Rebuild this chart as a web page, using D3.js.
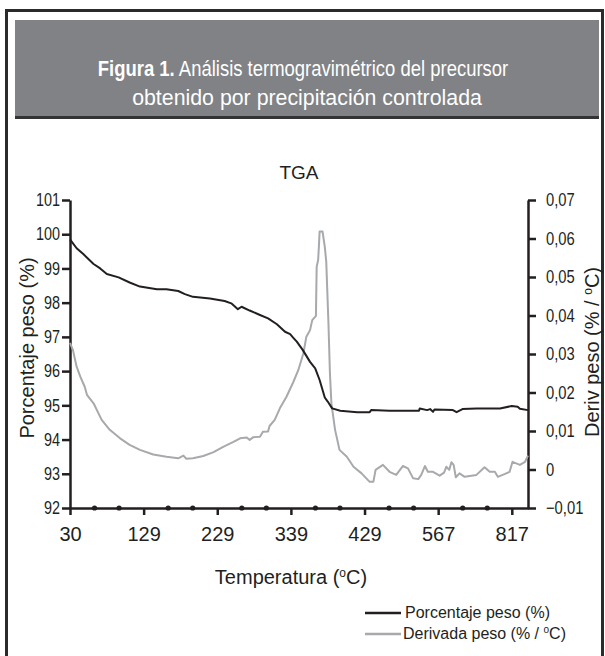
<!DOCTYPE html>
<html>
<head>
<meta charset="utf-8">
<script src="https://cdnjs.cloudflare.com/ajax/libs/d3/7.8.5/d3.min.js"></script>
<style>
  body { margin: 0; background: #fff; }
  text { font-family: "Liberation Sans", Arial, sans-serif; fill: #231f20; }
</style>
</head>
<body>
<svg id="chart" width="605" height="656"></svg>
<script>
// x axis is sample position; labels are the temperatures printed under each tick
const xLabels = ["30", "129", "229", "339", "429", "567", "817"];
const pesoTicks = [92, 93, 94, 95, 96, 97, 98, 99, 100, 101];
const derivTicks = [-0.01, 0, 0.01, 0.02, 0.03, 0.04, 0.05, 0.06, 0.07];

// Porcentaje peso (%)
const pesoX = [0, 0.09, 0.18, 0.32, 0.41, 0.50, 0.66, 0.81, 0.95, 1.18, 1.31, 1.47, 1.56, 1.67,
  1.90, 2.10, 2.19, 2.28, 2.33, 2.44, 2.58, 2.69, 2.81, 2.92, 2.99, 3.03, 3.08, 3.16, 3.26,
  3.33, 3.39, 3.46, 3.50, 3.56, 3.67, 3.90, 4.07, 4.09, 4.34, 4.74, 4.75, 4.85, 4.89, 4.93,
  4.95, 5.20, 5.25, 5.33, 5.52, 5.84, 6.00, 6.08, 6.11, 6.22];
const pesoY = [99.85, 99.59, 99.42, 99.13, 99.00, 98.84, 98.74, 98.59, 98.47, 98.39, 98.39, 98.34, 98.25, 98.17,
  98.12, 98.05, 97.98, 97.81, 97.88, 97.77, 97.64, 97.54, 97.37, 97.15, 97.08, 96.98, 96.86, 96.62, 96.27,
  96.08, 95.74, 95.23, 95.11, 94.91, 94.84, 94.80, 94.80, 94.86, 94.84, 94.84, 94.91, 94.86, 94.89, 94.81,
  94.88, 94.86, 94.80, 94.89, 94.91, 94.91, 94.98, 94.96, 94.90, 94.86];

// Derivada peso (% / ºC)
const derivX = [0, 0.04, 0.09, 0.14, 0.20, 0.23, 0.32, 0.43, 0.54, 0.68, 0.81, 0.95, 1.13, 1.31,
  1.47, 1.54, 1.58, 1.67, 1.81, 1.95, 2.08, 2.22, 2.31, 2.40, 2.44, 2.49, 2.58, 2.62, 2.69,
  2.71, 2.78, 2.85, 2.94, 3.03, 3.10, 3.17, 3.21, 3.26, 3.29, 3.34, 3.35, 3.37, 3.38, 3.39,
  3.43, 3.46, 3.48, 3.51, 3.53, 3.55, 3.60, 3.66, 3.76, 3.85, 3.96, 4.07, 4.12, 4.15, 4.25,
  4.34, 4.43, 4.52, 4.59, 4.66, 4.73, 4.77, 4.82, 4.86, 4.93, 5.02, 5.08, 5.11, 5.15, 5.18,
  5.21, 5.24, 5.29, 5.36, 5.52, 5.63, 5.70, 5.77, 5.81, 5.90, 5.97, 6.01, 6.11, 6.18, 6.22];
const derivY = [0.0329, 0.0310, 0.0267, 0.0241, 0.0215, 0.0194, 0.0172, 0.0129, 0.0103, 0.0081, 0.0064, 0.0051, 0.0039, 0.0033,
  0.0029, 0.0036, 0.0028, 0.0029, 0.0035, 0.0045, 0.0059, 0.0072, 0.0081, 0.0083, 0.0077, 0.0084, 0.0085, 0.0098, 0.0099,
  0.0113, 0.0129, 0.0159, 0.0189, 0.0226, 0.0258, 0.0302, 0.0345, 0.0362, 0.0388, 0.0399, 0.0527, 0.0544, 0.0579, 0.0618,
  0.0618, 0.0579, 0.0540, 0.0380, 0.0250, 0.0172, 0.0103, 0.0051, 0.0033, 0.0007, -0.0010, -0.0032, -0.0032, -0.0001, 0.0012,
  -0.0006, -0.0014, 0.0009, 0.0003, -0.0023, -0.0025, -0.0014, 0.0009, -0.0006, -0.0006, -0.0016, -0.0008, 0.0007, -0.0001, 0.0019,
  0.0012, -0.0020, -0.0010, -0.0019, -0.0014, 0.0006, -0.0006, -0.0006, -0.0019, -0.0012, -0.0006, 0.0020, 0.0012, 0.0020, 0.0036];

const svg = d3.select("#chart");
const dark = "#231f20";

// squeeze text horizontally (the original uses a condensed face)
function condense(sel, k) {
  sel.each(function () {
    const w = this.getComputedTextLength();
    d3.select(this).attr("textLength", w * k).attr("lengthAdjust", "spacingAndGlyphs");
  });
}

// frame + header box
svg.append("rect").attr("x", 6.5).attr("y", 10.5).attr("width", 596).attr("height", 660)
  .attr("fill", "none").attr("stroke", "#2b2b2b").attr("stroke-width", 3);
svg.append("rect").attr("x", 15).attr("y", 20).attr("width", 584).attr("height", 98).attr("fill", "#808285");
svg.append("rect").attr("x", 15).attr("y", 116).attr("width", 584).attr("height", 3).attr("fill", "#333");

const head1 = svg.append("g").attr("transform", "translate(303,0) scale(0.84,1)");
const l1 = head1.append("text").attr("x", 0).attr("y", 76).attr("text-anchor", "middle").attr("font-size", 22);
l1.append("tspan").attr("font-weight", "bold").style("fill", "#fff").text("Figura 1.");
l1.append("tspan").style("fill", "#fff").text(" Análisis termogravimétrico del precursor");
svg.append("g").attr("transform", "translate(307,0) scale(0.97,1)")
  .append("text").attr("x", 0).attr("y", 105).attr("text-anchor", "middle").attr("font-size", 22)
  .style("fill", "#fff").text("obtenido por precipitación controlada");

// scales
const mLeft = 70, mRight = 528, mTop = 200, mBottom = 508;
const x = d3.scaleLinear().domain([0, 6.22]).range([mLeft, mRight]);
const yL = d3.scaleLinear().domain([92, 101]).range([mBottom, mTop]);
const yR = d3.scaleLinear().domain([-0.01, 0.07]).range([mBottom, mTop]);

svg.append("text").attr("x", 299).attr("y", 179).attr("text-anchor", "middle")
  .attr("font-size", 19).text("TGA");

// axes
function styleAxis(g) {
  g.select(".domain").attr("stroke", dark).attr("stroke-width", 2.5);
  g.selectAll(".tick line").attr("stroke", dark).attr("stroke-width", 2.5);
  g.selectAll(".tick text").style("fill", dark);
}

svg.append("g").attr("transform", `translate(${mLeft},0)`)
  .call(d3.axisLeft(yL).tickValues(pesoTicks).tickSize(8).tickSizeOuter(0).tickPadding(2))
  .call(g => g.selectAll("text").attr("font-size", 18).call(condense, 0.8))
  .call(styleAxis);

const fmt = d3.format(".2f");
svg.append("g").attr("transform", `translate(${mRight},0)`)
  .call(d3.axisRight(yR).tickValues(derivTicks).tickSize(8).tickSizeOuter(0).tickPadding(10)
    .tickFormat(d => (Math.abs(d) < 1e-9 ? "0" : fmt(d).replace(".", ","))))
  .call(g => g.selectAll("text").attr("font-size", 18).call(condense, 0.82))
  .call(styleAxis);

svg.append("g").attr("transform", `translate(0,${mBottom})`)
  .call(d3.axisBottom(x).tickValues(d3.range(xLabels.length)).tickFormat(i => xLabels[i])
    .tickSize(7).tickSizeOuter(0).tickPadding(12))
  .call(g => g.selectAll("text").attr("font-size", 20))
  .call(styleAxis);

// dots on the x axis between ticks
const dots = d3.range(xLabels.length - 1).flatMap(i => [i + 1 / 3, i + 2 / 3]);
svg.append("g").selectAll("circle").data(dots).enter().append("circle")
  .attr("cx", d => x(d)).attr("cy", mBottom).attr("r", 2.6).attr("fill", dark);

// lines
const pesoData = pesoX.map((v, i) => [v, pesoY[i]]);
const derivData = derivX.map((v, i) => [v, derivY[i]]);

svg.append("path").datum(derivData)
  .attr("fill", "none").attr("stroke", "#a7a9ac").attr("stroke-width", 2).attr("stroke-linejoin", "round")
  .attr("d", d3.line().x(d => x(d[0])).y(d => yR(d[1])));

svg.append("path").datum(pesoData)
  .attr("fill", "none").attr("stroke", dark).attr("stroke-width", 2).attr("stroke-linejoin", "round")
  .attr("d", d3.line().x(d => x(d[0])).y(d => yL(d[1])));

// axis titles
svg.append("text").attr("transform", "translate(34,348) rotate(-90)").attr("text-anchor", "middle")
  .attr("font-size", 20).text("Porcentaje peso (%)");

const rt = svg.append("text").attr("transform", "translate(599,352) rotate(-90)").attr("text-anchor", "middle")
  .attr("font-size", 20);
rt.append("tspan").text("Deriv peso (% / ");
rt.append("tspan").attr("font-size", 12).attr("dy", -7).text("o");
rt.append("tspan").attr("dy", 7).text("C)");

const xt = svg.append("text").attr("x", 291).attr("y", 584).attr("text-anchor", "middle").attr("font-size", 20);
xt.append("tspan").text("Temperatura (");
xt.append("tspan").attr("font-size", 12).attr("dy", -7).text("o");
xt.append("tspan").attr("dy", 7).text("C)");

// legend
const legend = svg.append("g");
legend.append("line").attr("x1", 365).attr("x2", 401).attr("y1", 613).attr("y2", 613)
  .attr("stroke", dark).attr("stroke-width", 2.5);
legend.append("text").attr("x", 405).attr("y", 618).attr("font-size", 16).text("Porcentaje peso (%)");
legend.append("line").attr("x1", 365).attr("x2", 401).attr("y1", 634).attr("y2", 634)
  .attr("stroke", "#a7a9ac").attr("stroke-width", 2.5);
const lt = legend.append("text").attr("x", 403).attr("y", 639).attr("font-size", 16);
lt.append("tspan").text("Derivada peso (% / ");
lt.append("tspan").attr("font-size", 10).attr("dy", -6).text("o");
lt.append("tspan").attr("dy", 6).text("C)");
</script>
</body>
</html>
